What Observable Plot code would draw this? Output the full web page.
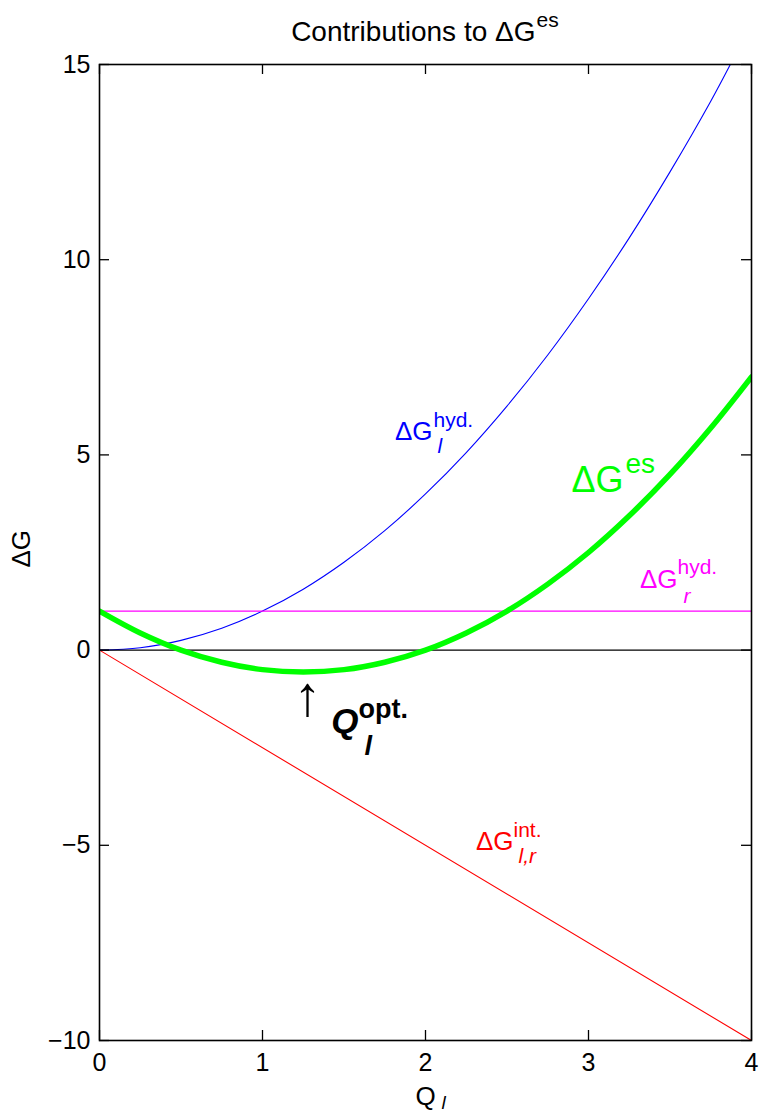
<!DOCTYPE html>
<html>
<head>
<meta charset="utf-8">
<script src="https://cdn.jsdelivr.net/npm/d3@7"></script>
<script src="https://cdn.jsdelivr.net/npm/@observablehq/plot@0.6"></script>
<style>
  html, body { margin: 0; padding: 0; background: #ffffff; }
  #chart svg { display: block; }
</style>
</head>
<body>
<div id="chart"></div>
<script>
// ---- data ----
const Q       = [0, 0.25, 0.5, 0.75, 1, 1.25, 1.5, 1.75, 2, 2.25, 2.5, 2.75, 3, 3.25, 3.5, 3.75, 4];
const dGes    = [1, 0.44, 0, -0.31, -0.5, -0.56, -0.5, -0.31, 0, 0.44, 1, 1.69, 2.5, 3.44, 4.5, 5.69, 7];
const QhydL   = [0, 0.25, 0.5, 0.75, 1, 1.25, 1.5, 1.75, 2, 2.25, 2.5, 2.75, 3, 3.25, 3.5, 3.75, 3.87];
const dGhydL  = [0, 0.06, 0.25, 0.56, 1, 1.56, 2.25, 3.06, 4, 5.06, 6.25, 7.56, 9, 10.56, 12.25, 14.06, 15];
const Qends   = [0, 4];
const dGint   = [0, -10];
const dGhydR  = [1, 1];
const zeroLine = [0, 0];
const xTicks  = [0, 1, 2, 3, 4];
const yTicks  = [-10, -5, 0, 5, 10, 15];

const BLUE = "#0000ff", RED = "#ff0000", MAGENTA = "#ff00ff", GREEN = "#00ff00";

const table = (xs, ys) => xs.map((x, i) => ({x, y: ys[i]}));

const W = 759, H = 1114;
const mL = 99, mR = 8, mT = 64, mB = 74;
const fw = W - mL - mR, fh = H - mT - mB;
const TICK = 10;

const txt = (x, y, s, o) =>
  Plot.text([{x, y}], {x: "x", y: "y", text: () => s, lineAnchor: "bottom", ...o});

const chart = Plot.plot({
  width: W,
  height: H,
  marginLeft: mL, marginRight: mR, marginTop: mT, marginBottom: mB,
  style: {fontFamily: "'Liberation Sans', Arial, Helvetica, sans-serif", fontSize: "25px", background: "#ffffff", color: "#000000"},
  x: {domain: [0, 4]},
  y: {domain: [-10, 15]},
  marks: [
    // curves
    Plot.line(table(QhydL, dGhydL), {x: "x", y: "y", stroke: BLUE, strokeWidth: 1.1, curve: "catmull-rom", clip: true}),
    Plot.line(table(Qends, dGint), {x: "x", y: "y", stroke: RED, strokeWidth: 1.1, clip: true}),
    Plot.line(table(Qends, dGhydR), {x: "x", y: "y", stroke: MAGENTA, strokeWidth: 1.3, clip: true}),
    Plot.line(table(Qends, zeroLine), {x: "x", y: "y", stroke: "#000000", strokeWidth: 1.1, clip: true}),
    Plot.line(table(Q, dGes), {x: "x", y: "y", stroke: GREEN, strokeWidth: 5.5, curve: "catmull-rom", clip: true}),

    // frame and inward ticks on all sides
    Plot.frame({stroke: "#000000", strokeWidth: 1.6}),
    Plot.tickX(xTicks, {x: d => d, insetTop: fh - TICK, stroke: "#000", strokeWidth: 1.3}),
    Plot.tickX(xTicks, {x: d => d, insetBottom: fh - TICK, stroke: "#000", strokeWidth: 1.3}),
    Plot.tickY(yTicks, {y: d => d, insetRight: fw - TICK, stroke: "#000", strokeWidth: 1.3}),
    Plot.tickY(yTicks, {y: d => d, insetLeft: fw - TICK, stroke: "#000", strokeWidth: 1.3}),

    // tick labels
    Plot.axisX(xTicks, {tickSize: 0, tickPadding: 13, label: null, fontSize: 25, tickFormat: d => String(d)}),
    Plot.axisY(yTicks, {tickSize: 0, tickPadding: 9, label: null, fontSize: 25}),

    // axis labels
    Plot.text(["ΔG"], {frameAnchor: "left", text: d => d, rotate: -90, dx: -78, dy: 15, fontSize: 26}),
    Plot.text(["Q"], {frameAnchor: "bottom", text: d => d, lineAnchor: "bottom", dy: 64, fontSize: 26}),
    Plot.text(["l"], {frameAnchor: "bottom", text: d => d, lineAnchor: "bottom", textAnchor: "start", dx: 16, dy: 68, fontSize: 19, fontStyle: "italic"}),

    // title
    Plot.text(["Contributions to ΔG"], {frameAnchor: "top", text: d => d, textAnchor: "end", lineAnchor: "bottom", dx: 110, dy: -24, fontSize: 28}),
    Plot.text(["es"], {frameAnchor: "top", text: d => d, textAnchor: "start", lineAnchor: "bottom", dx: 111, dy: -38, fontSize: 21}),

    // annotations
    txt(2.043, 5.38, "ΔG", {fill: BLUE, fontSize: 26, textAnchor: "end"}),
    txt(2.043, 5.38, "hyd.", {fill: BLUE, fontSize: 21, textAnchor: "start", dx: 1, dy: -13}),
    txt(2.043, 5.38, "l", {fill: BLUE, fontSize: 21, fontStyle: "italic", textAnchor: "start", dx: 5, dy: 13}),

    txt(3.215, 4.047, "ΔG", {fill: GREEN, fontSize: 36, textAnchor: "end"}),
    txt(3.215, 4.047, "es", {fill: GREEN, fontSize: 28, textAnchor: "start", dx: 2, dy: -19}),

    txt(3.546, 1.588, "ΔG", {fill: MAGENTA, fontSize: 26, textAnchor: "end"}),
    txt(3.546, 1.588, "hyd.", {fill: MAGENTA, fontSize: 21, textAnchor: "start", dx: 0, dy: -14}),
    txt(3.546, 1.588, "r", {fill: MAGENTA, fontSize: 21, fontStyle: "italic", textAnchor: "start", dx: 6, dy: 15}),

    txt(2.54, -5.123, "ΔG", {fill: RED, fontSize: 26, textAnchor: "end"}),
    txt(2.54, -5.123, "int.", {fill: RED, fontSize: 21, textAnchor: "start", dx: 0, dy: -13}),
    txt(2.54, -5.123, "l,r", {fill: RED, fontSize: 21, fontStyle: "italic", textAnchor: "start", dx: 5, dy: 13}),

    txt(1.276, -1.2, "↑", {fill: "#000000", fontSize: 56, textAnchor: "middle", lineAnchor: "middle"}),
    txt(1.589, -2.126, "Q", {fill: "#000000", fontSize: 35, fontWeight: "bold", fontStyle: "italic", textAnchor: "end"}),
    txt(1.589, -2.126, "opt.", {fill: "#000000", fontSize: 27, fontWeight: "bold", textAnchor: "start", dx: 0, dy: -15}),
    txt(1.589, -2.126, "l", {fill: "#000000", fontSize: 27, fontWeight: "bold", fontStyle: "italic", textAnchor: "start", dx: 6, dy: 22})
  ]
});

document.getElementById("chart").appendChild(chart);
</script>
</body>
</html>
